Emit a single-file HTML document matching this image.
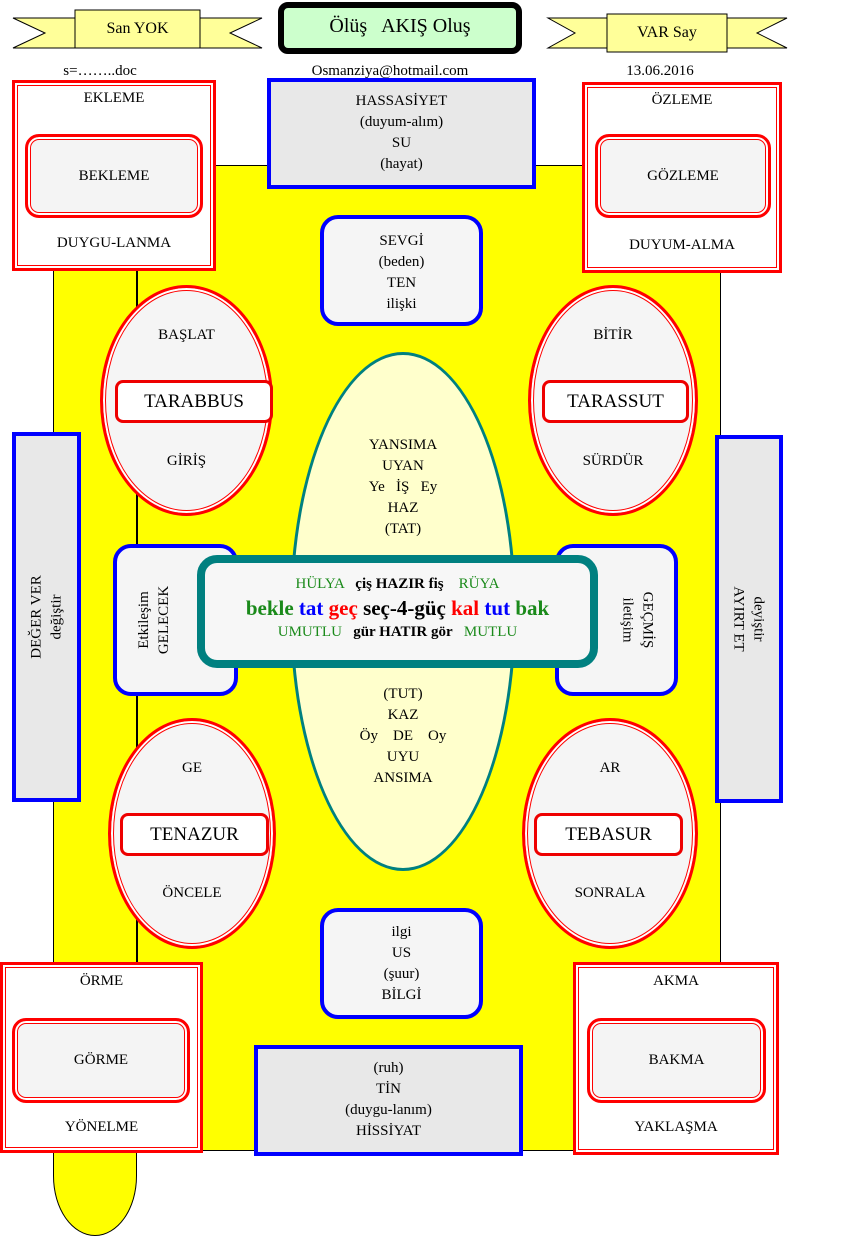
<!DOCTYPE html>
<html><head><meta charset="utf-8"><style>
body{margin:0;width:852px;height:1236px;position:relative;background:#fff;font-family:"Liberation Serif",serif;font-size:15px;overflow:hidden}
.a{position:absolute;box-sizing:border-box}
.t{position:absolute;text-align:center;line-height:21px}
.red{border:3px solid #f00;box-shadow:inset 0 0 0 2px #fff,inset 0 0 0 3px #f00;background:#fff}
.inr{border:3px solid #f00;box-shadow:inset 0 0 0 2px #fff,inset 0 0 0 3px #f00;background:#f4f4f4;border-radius:14px;display:flex;align-items:center;justify-content:center}
.blue{border:4px solid #00f;background:#e8e8e8;text-align:center;line-height:21px}
.rb{border:4px solid #00f;background:#f5f5f5;border-radius:18px;text-align:center;line-height:21px}
.el{border:3px solid #f00;box-shadow:inset 0 0 0 2px #fff,inset 0 0 0 3px #f00;background:#f5f5f5;border-radius:50%}
.bx{border:3px solid #e00;background:#fff;border-radius:8px;display:flex;align-items:center;justify-content:center;font-size:19px}
.rot{display:flex;align-items:center;justify-content:center}
</style></head><body>
<div class="a" style="left:53px;top:165px;width:668px;height:986px;background:#ff0;border:1.5px solid #000"></div>
<div class="a" style="left:53px;top:1100px;width:84px;height:136px;background:#ff0;border:1.5px solid #000;border-top:none;border-radius:0 0 42px 42px/0 0 60px 60px"></div>
<div class="a" style="left:136px;top:165px;width:1.5px;height:986px;background:#000"></div>

<svg class="a" style="left:0;top:0" width="852" height="60">
<polygon points="13,18 75,18 75,48 13,48 45,33" fill="#ffff99" stroke="#000"/>
<polygon points="200,18 262,18 230,33 262,48 200,48" fill="#ffff99" stroke="#000"/>
<rect x="75" y="10" width="125" height="38" fill="#ffff99" stroke="#000"/>
<polygon points="548,18 607,18 607,48 548,48 575,33" fill="#ffff99" stroke="#000"/>
<polygon points="727,18 787,18 757,33 787,48 727,48" fill="#ffff99" stroke="#000"/>
<rect x="607" y="14" width="120" height="38" fill="#ffff99" stroke="#000"/>
</svg>
<div class="t" style="left:75px;top:18px;width:125px;font-size:16px">San YOK</div>
<div class="t" style="left:607px;top:22px;width:120px;font-size:16px">VAR Say</div>
<div class="a" style="left:278px;top:2px;width:244px;height:52px;border:6px solid #000;border-radius:10px;background:#ccffcc;text-align:center;font-size:20px;line-height:36px">Ölüş &nbsp; AKIŞ Oluş</div>
<div class="t" style="left:40px;top:61px;width:120px">s=……..doc</div>
<div class="t" style="left:270px;top:61px;width:240px">Osmanziya@hotmail.com</div>
<div class="t" style="left:600px;top:61px;width:120px">13.06.2016</div>

<div class="a red" style="left:12px;top:80px;width:204px;height:191px"></div>
<div class="a inr" style="left:25px;top:134px;width:178px;height:84px">BEKLEME</div>
<div class="t" style="left:12px;top:88px;width:204px">EKLEME</div>
<div class="t" style="left:12px;top:233px;width:204px">DUYGU-LANMA</div>

<div class="a red" style="left:582px;top:82px;width:200px;height:191px"></div>
<div class="a inr" style="left:595px;top:134px;width:176px;height:84px">GÖZLEME</div>
<div class="t" style="left:582px;top:90px;width:200px">ÖZLEME</div>
<div class="t" style="left:582px;top:235px;width:200px">DUYUM-ALMA</div>

<div class="a red" style="left:0;top:962px;width:203px;height:191px"></div>
<div class="a inr" style="left:12px;top:1018px;width:178px;height:85px">GÖRME</div>
<div class="t" style="left:0;top:971px;width:203px">ÖRME</div>
<div class="t" style="left:0;top:1117px;width:203px">YÖNELME</div>

<div class="a red" style="left:573px;top:962px;width:206px;height:193px"></div>
<div class="a inr" style="left:587px;top:1018px;width:179px;height:85px">BAKMA</div>
<div class="t" style="left:573px;top:971px;width:206px">AKMA</div>
<div class="t" style="left:573px;top:1117px;width:206px">YAKLAŞMA</div>

<div class="a blue" style="left:267px;top:78px;width:269px;height:111px;padding-top:9px">HASSASİYET<br>(duyum-alım)<br>SU<br>(hayat)</div>
<div class="a blue" style="left:254px;top:1045px;width:269px;height:111px;padding-top:9px">(ruh)<br>TİN<br>(duygu-lanım)<br>HİSSİYAT</div>
<div class="a rb" style="left:320px;top:215px;width:163px;height:111px;padding-top:12px">SEVGİ<br>(beden)<br>TEN<br>ilişki</div>
<div class="a rb" style="left:320px;top:908px;width:163px;height:111px;padding-top:10px">ilgi<br>US<br>(şuur)<br>BİLGİ</div>

<div class="a blue rot" style="left:12px;top:432px;width:69px;height:370px"><div style="transform:rotate(-90deg);white-space:nowrap;line-height:20px">DEĞER VER<br>değiştir</div></div>
<div class="a blue rot" style="left:715px;top:435px;width:68px;height:368px"><div style="transform:rotate(90deg);white-space:nowrap;line-height:20px">deyiştir<br>AYIRT ET</div></div>

<div class="a el" style="left:100px;top:285px;width:173px;height:231px"></div>
<div class="a bx" style="left:115px;top:380px;width:158px;height:43px">TARABBUS</div>
<div class="t" style="left:100px;top:325px;width:173px">BAŞLAT</div>
<div class="t" style="left:100px;top:451px;width:173px">GİRİŞ</div>

<div class="a el" style="left:528px;top:285px;width:170px;height:231px"></div>
<div class="a bx" style="left:542px;top:380px;width:147px;height:43px">TARASSUT</div>
<div class="t" style="left:528px;top:325px;width:170px">BİTİR</div>
<div class="t" style="left:528px;top:451px;width:170px">SÜRDÜR</div>

<div class="a el" style="left:108px;top:718px;width:168px;height:231px"></div>
<div class="a bx" style="left:120px;top:813px;width:149px;height:43px">TENAZUR</div>
<div class="t" style="left:108px;top:758px;width:168px">GE</div>
<div class="t" style="left:108px;top:883px;width:168px">ÖNCELE</div>

<div class="a el" style="left:522px;top:718px;width:176px;height:231px"></div>
<div class="a bx" style="left:534px;top:813px;width:149px;height:43px">TEBASUR</div>
<div class="t" style="left:522px;top:758px;width:176px">AR</div>
<div class="t" style="left:522px;top:883px;width:176px">SONRALA</div>

<div class="a" style="left:290px;top:352px;width:226px;height:519px;border:3px solid #008080;background:#ffffcc;border-radius:50%"></div>
<div class="t" style="left:290px;top:435px;width:226px">YANSIMA<br>UYAN<br>Ye &nbsp;&nbsp;İŞ &nbsp;&nbsp;Ey<br>HAZ<br>(TAT)</div>
<div class="t" style="left:290px;top:684px;width:226px">(TUT)<br>KAZ<br>Öy &nbsp;&nbsp;&nbsp;DE &nbsp;&nbsp;&nbsp;Oy<br>UYU<br>ANSIMA</div>

<div class="a rb rot" style="left:113px;top:544px;width:125px;height:152px;padding-right:42px"><div style="transform:rotate(-90deg);white-space:nowrap;line-height:20px">Etkileşim<br>GELECEK</div></div>
<div class="a rb rot" style="left:555px;top:544px;width:123px;height:152px;padding-left:42px"><div style="transform:rotate(90deg);white-space:nowrap;line-height:20px">GEÇMİŞ<br>iletişim</div></div>

<div class="a" style="left:197px;top:555px;width:401px;height:113px;border:8px solid #008080;border-radius:20px;background:#f7f7f7;text-align:center;padding-top:10px">
<div style="line-height:22px"><span style="color:#1a8a1a">HÜLYA</span> &nbsp;&nbsp;<b>çiş HAZIR fiş</b> &nbsp;&nbsp;&nbsp;<span style="color:#1a8a1a">RÜYA</span></div>
<div style="font-size:21px;font-weight:bold;line-height:26px"><span style="color:#1a8a1a">bekle</span> <span style="color:#00f">tat</span> <span style="color:#f00">geç</span> seç-4-güç <span style="color:#f00">kal</span> <span style="color:#00f">tut</span> <span style="color:#1a8a1a">bak</span></div>
<div style="line-height:22px"><span style="color:#1a8a1a">UMUTLU</span> &nbsp;&nbsp;<b>gür HATIR gör</b> &nbsp;&nbsp;<span style="color:#1a8a1a">MUTLU</span></div>
</div>
</body></html>
